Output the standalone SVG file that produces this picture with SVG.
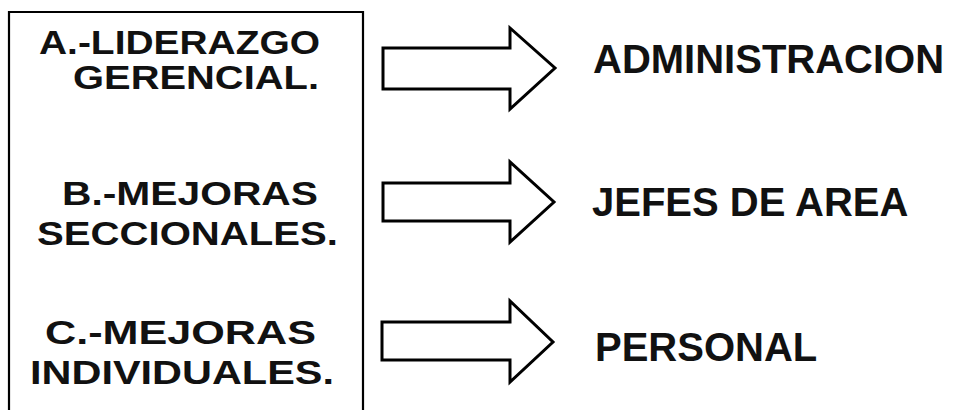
<svg xmlns="http://www.w3.org/2000/svg" width="954" height="410" viewBox="0 0 954 410">
  <style>
    .frame { fill: none; stroke: #000; stroke-width: 2.2; }
    .arrow { fill: #fff; stroke: #000; stroke-width: 3; stroke-linejoin: miter; }
    .item { font-family: "Liberation Sans", Arial, sans-serif; font-weight: bold; font-size: 34px; fill: #111; }
    .target { font-family: "Liberation Sans", Arial, sans-serif; font-weight: bold; font-size: 40px; fill: #111; }
  </style>
  <rect width="954" height="410" fill="#fff"/>

  <!-- list box (open at the bottom edge) -->
  <g id="box">
    <path class="frame" d="M9,414 V12 H363 V414"/>
  </g>

  <g id="item-a">
    <text class="item" x="39" y="54" textLength="281" lengthAdjust="spacingAndGlyphs">A.-LIDERAZGO</text>
    <text class="item" x="73" y="89" textLength="246" lengthAdjust="spacingAndGlyphs">GERENCIAL.</text>
  </g>
  <g id="item-b">
    <text class="item" x="62" y="205" textLength="256" lengthAdjust="spacingAndGlyphs">B.-MEJORAS</text>
    <text class="item" x="37" y="245" textLength="301" lengthAdjust="spacingAndGlyphs">SECCIONALES.</text>
  </g>
  <g id="item-c">
    <text class="item" x="45" y="344" textLength="271" lengthAdjust="spacingAndGlyphs">C.-MEJORAS</text>
    <text class="item" x="30" y="384" textLength="304" lengthAdjust="spacingAndGlyphs">INDIVIDUALES.</text>
  </g>

  <!-- block arrows -->
  <g id="connectors">
    <path class="arrow" d="M383,48 H510 V28 L555,68 L510,109 V89 H383 Z"/>
    <path class="arrow" d="M383,183 H510 V162 L554,202 L510,242 V221 H383 Z"/>
    <path class="arrow" d="M382,322 H510 V301 L553,342 L510,382 V360 H382 Z"/>
  </g>

  <g id="target-admin">
    <text class="target" x="593" y="73">ADMINISTRACION</text>
  </g>
  <g id="target-jefes">
    <text class="target" x="592" y="216">JEFES DE AREA</text>
  </g>
  <g id="target-personal">
    <text class="target" x="595" y="361">PERSONAL</text>
  </g>
</svg>
